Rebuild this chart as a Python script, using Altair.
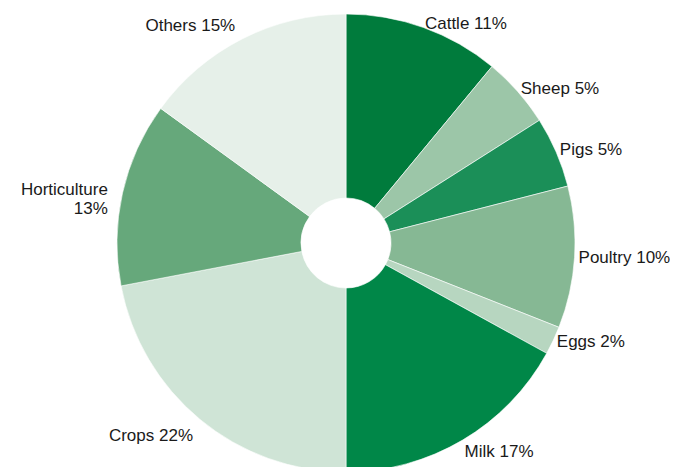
import altair as alt
import pandas as pd

categories = ["Cattle", "Sheep", "Pigs", "Poultry", "Eggs", "Milk", "Crops", "Horticulture", "Others"]
values = [11, 5, 5, 10, 2, 17, 22, 13, 15]
colors = ["#007b3c", "#9cc6a8", "#1b8f58", "#86b894", "#b7d6c0", "#008748", "#cfe4d6", "#66a87b", "#e6f0e9"]
labels = ["Cattle 11%", "Sheep 5%", "Pigs 5%", "Poultry 10%", "Eggs 2%", "Milk 17%", "Crops 22%", "Horticulture\n13%", "Others 15%"]

starts, ends, mids = [], [], []
acc = 0
for v in values:
    starts.append(acc)
    ends.append(acc + v)
    mids.append(acc + v / 2)
    acc += v

df = pd.DataFrame({
    "category": categories,
    "value": values,
    "start": starts,
    "end": ends,
    "mid": mids,
    "label": labels,
})

theta_scale = alt.Scale(domain=[0, sum(values)])
cx, cy = 338, 235

arcs = alt.Chart(df).mark_arc(outerRadius=229, innerRadius=45, stroke="white", strokeWidth=0.6).encode(
    theta=alt.Theta("start:Q", scale=theta_scale),
    theta2="end:Q",
    color=alt.Color("category:N", scale=alt.Scale(domain=categories, range=colors), legend=None),
    x=alt.value(cx),
    y=alt.value(cy),
)

font = "Helvetica Neue, Helvetica, Liberation Sans, Arial, sans-serif"


def label_layer(cond, radius, align, baseline):
    return alt.Chart(df).transform_filter(cond).mark_text(
        radius=radius, align=align, baseline=baseline, fontSize=17, font=font,
        color="#1a1a1a", lineBreak="\n"
    ).encode(
        theta=alt.Theta("mid:Q", scale=theta_scale),
        text="label:N",
        x=alt.value(cx),
        y=alt.value(cy),
    )


right_text = label_layer("datum.mid < 35", 233, "left", "middle")
right_bottom = label_layer("datum.mid >= 35 && datum.mid < 50", 233, "left", "top")
left_bottom = label_layer("datum.mid >= 50 && datum.mid < 76", 240, "right", "top")
left_text = label_layer("datum.mid >= 76", 244, "right", "middle")

chart = alt.layer(arcs, right_text, right_bottom, left_bottom, left_text).properties(
    width=662, height=459, autosize="none", padding=0
).configure_view(stroke=None)

chart.save("out.html", embed_options={"renderer": "svg", "actions": False})
